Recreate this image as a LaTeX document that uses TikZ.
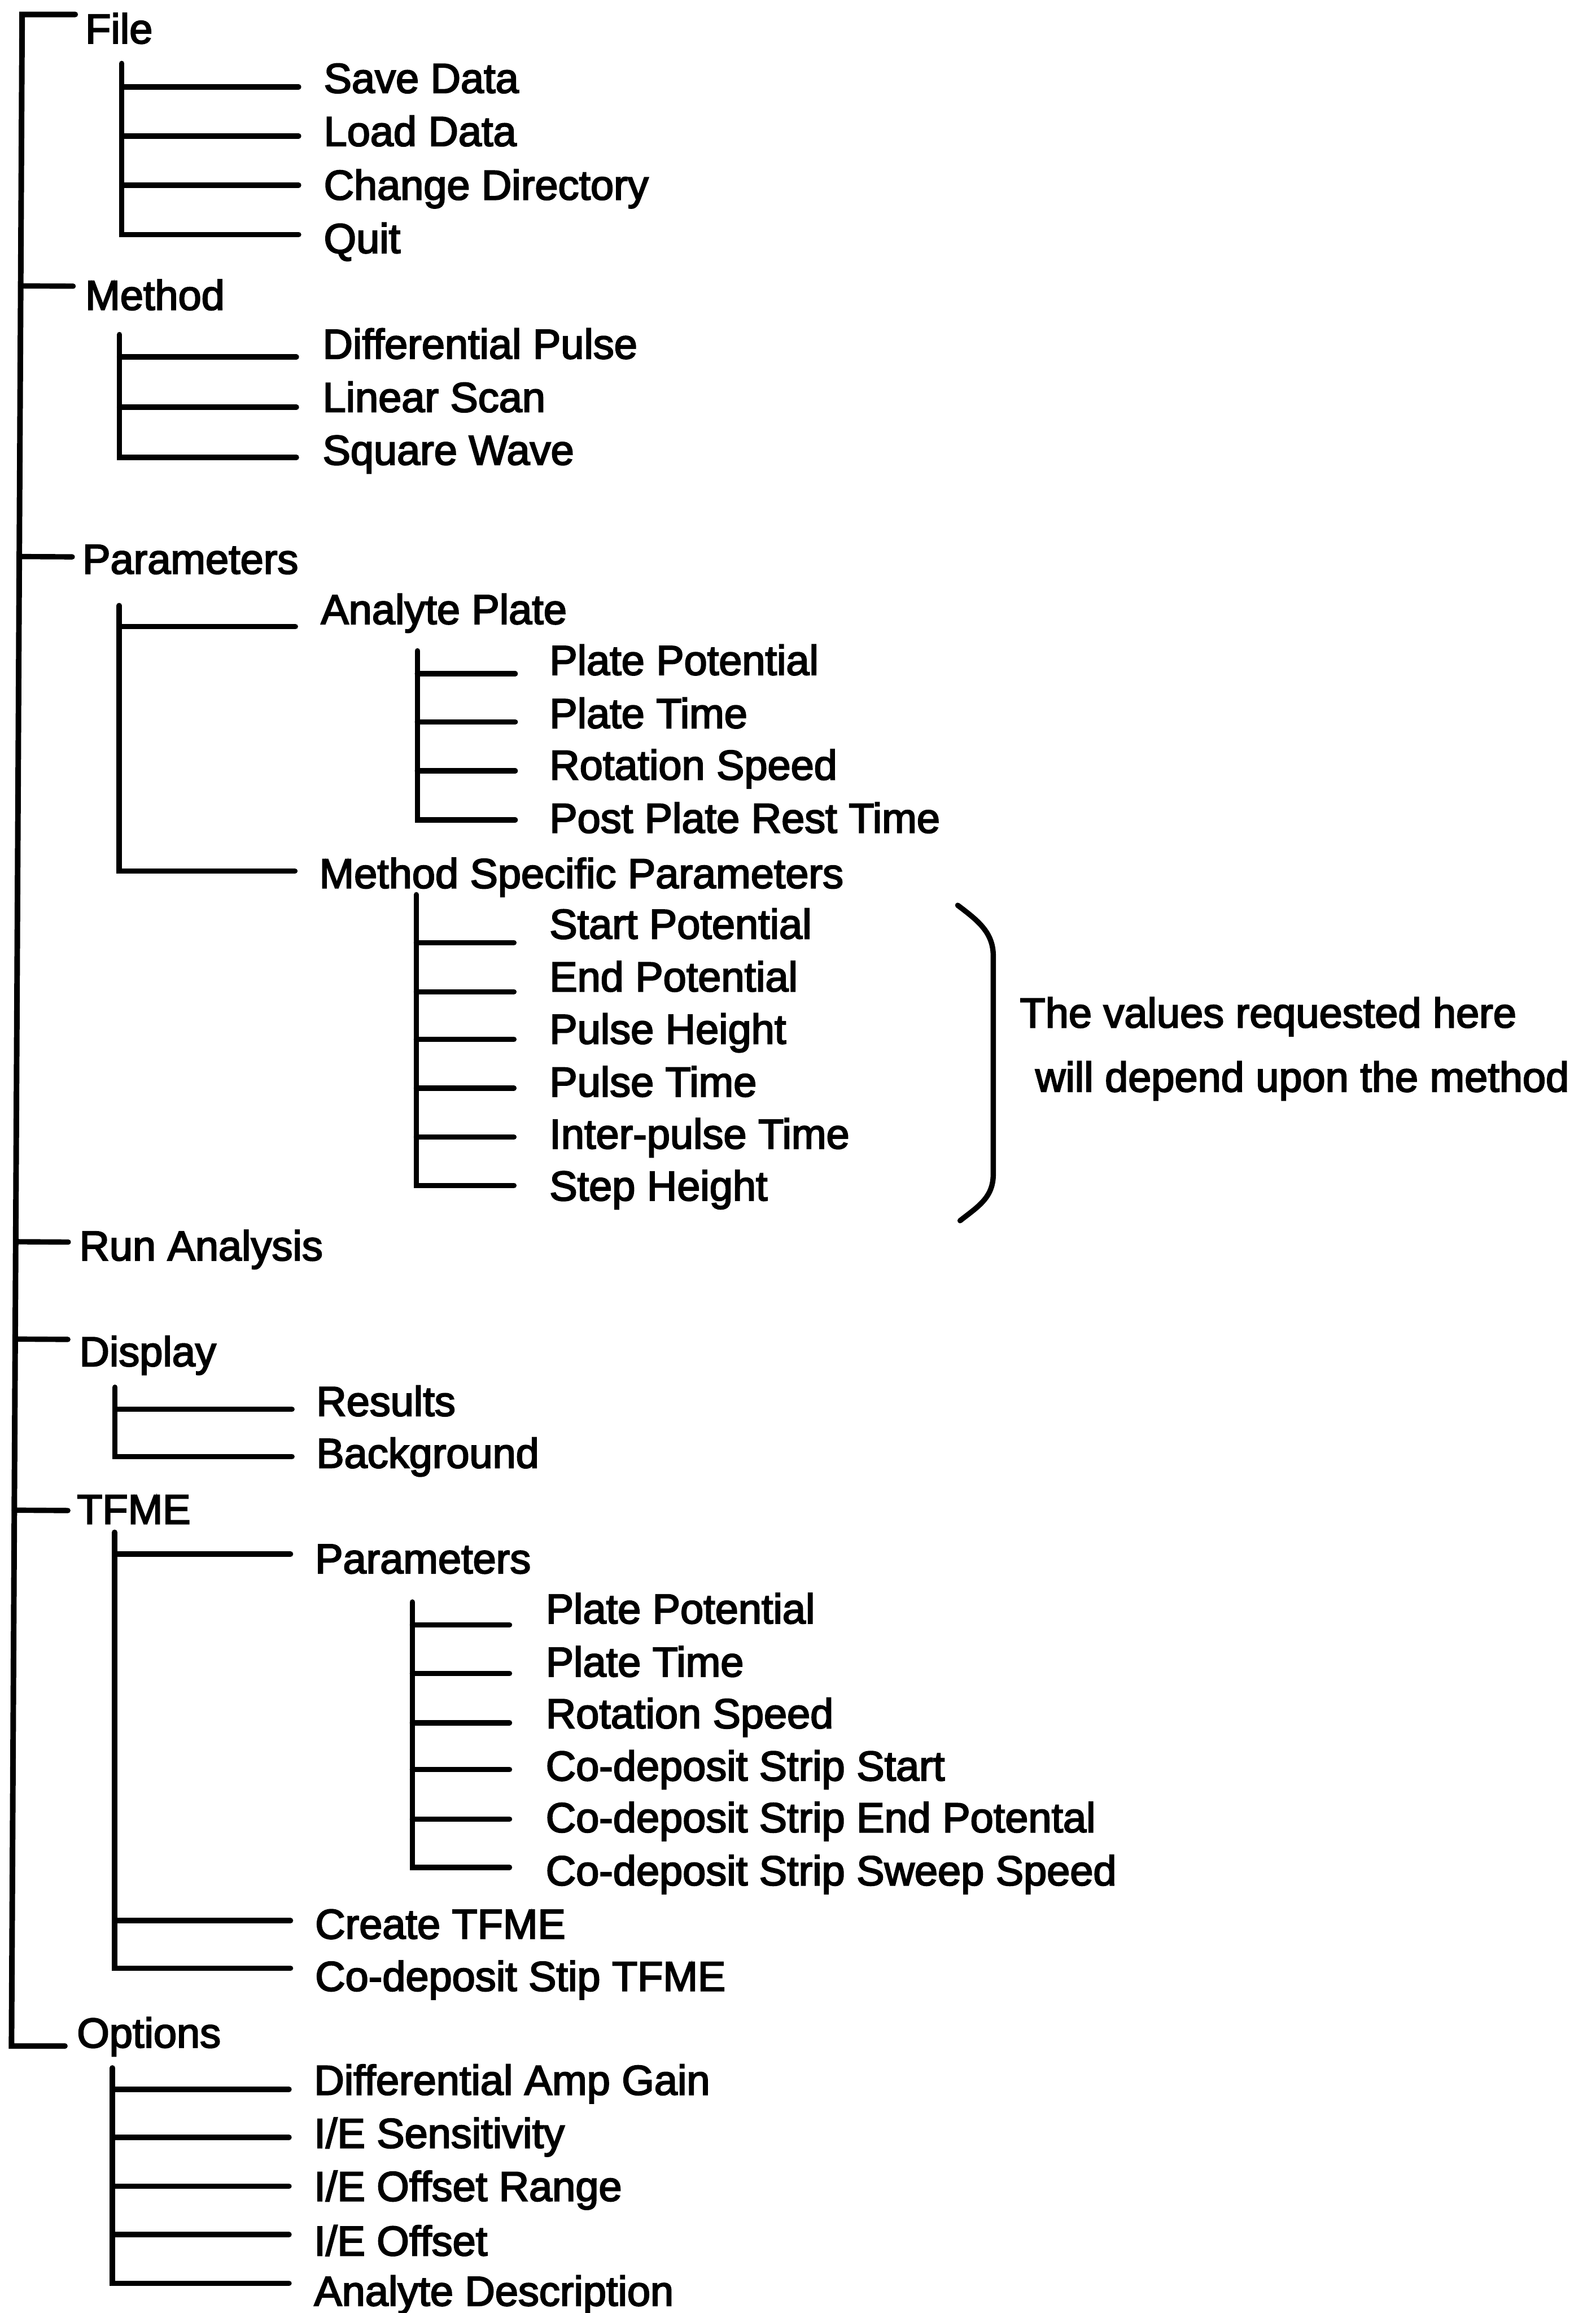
\documentclass[tikz,border=0pt]{standalone}
\usepackage{fontspec}
\newfontfamily\menufont{Liberation Sans}[FakeBold=3]
\newcommand\menutext{\menufont\fontsize{28.3}{34}\selectfont}
\usetikzlibrary{calc}
% one leaf of the menu tree: name, junction x, line y, line end x, text x, text baseline, text
\newcommand\menuleaf[7]{%
  \coordinate (#1-j) at (#2,#3);
  \coordinate (#1-e) at (#4,#3);
  \node[lbl] (#1) at (#5,#6) {#7};}
\begin{document}
\begin{tikzpicture}[x=1pt,y=-1pt,
  lbl/.style={anchor=base west,inner sep=0pt,font=\menutext},
  branch/.style={line width=3.6pt,line cap=round,line join=miter},
  trunk/.style={line width=3.8pt,line cap=round,line join=miter}]
\useasboundingbox (0,0) rectangle (1082,1568);

% ---- main menu ----
\coordinate (T0) at (15,9.8);
\coordinate (T1) at (7.8,1387);
\node[lbl] (file) at (57.7,29.4) {File};
\coordinate (file-e) at (51,9.8);
\node[lbl] (method) at (57.7,210) {Method};
\coordinate (method-e) at (49.6,194);
\node[lbl] (params) at (55.8,388.9) {Parameters};
\coordinate (params-e) at (49,377.5);
\node[lbl] (run) at (53.6,854.4) {Run Analysis};
\coordinate (run-e) at (46.3,842);
\node[lbl] (display) at (53.6,926.1) {Display};
\coordinate (display-e) at (46,908);
\node[lbl] (tfme) at (52,1033) {TFME};
\coordinate (tfme-e) at (46,1024);
\node[lbl] (options) at (52,1388) {Options};
\coordinate (options-e) at (44,1387);
\draw[trunk] (file-e) -- (T0) -- (T1) -- (options-e);
\foreach \n in {method,params,run,display,tfme}
  \draw[branch] ($(T0)!(\n-e)!(T1)$) -- (\n-e);

% ---- File ----
\coordinate (fileg-top) at (82.6,43);
\menuleaf{save}{82.6}{58.9}{202.5}{219.4}{62.9}{Save Data}
\menuleaf{load}{82.6}{92.2}{202.5}{219.4}{98.9}{Load Data}
\menuleaf{chdir}{82.6}{125.5}{202.5}{219.4}{135.3}{Change Directory}
\menuleaf{quit}{82.6}{159}{202.5}{219.4}{171.5}{Quit}
\draw[branch] (fileg-top) -- (quit-j) -- (quit-e);
\foreach \n in {save,load,chdir} \draw[branch] (\n-j) -- (\n-e);

% ---- Method ----
\coordinate (methg-top) at (81,226.8);
\menuleaf{dpulse}{81}{242}{201}{218.6}{243.1}{Differential Pulse}
\menuleaf{lscan}{81}{276}{201}{218.6}{279.2}{Linear Scan}
\menuleaf{sqwave}{81}{310}{201}{218.6}{315}{Square Wave}
\draw[branch] (methg-top) -- (sqwave-j) -- (sqwave-e);
\foreach \n in {dpulse,lscan} \draw[branch] (\n-j) -- (\n-e);

% ---- Parameters ----
\coordinate (parg-top) at (80.8,410.5);
\menuleaf{aplate}{80.8}{424.8}{200.3}{217.4}{423}{Analyte Plate}
\menuleaf{msp}{80.8}{590.5}{200}{216.3}{602}{Method Specific Parameters}
\draw[branch] (parg-top) -- (msp-j) -- (msp-e);
\draw[branch] (aplate-j) -- (aplate-e);

% Analyte Plate
\coordinate (apg-top) at (283,441.2);
\menuleaf{appot}{283}{456.7}{349.4}{372.4}{457.5}{Plate Potential}
\menuleaf{aptime}{283}{489.4}{349.4}{372.4}{493.5}{Plate Time}
\menuleaf{aprot}{283}{522.6}{349.4}{372.4}{528.5}{Rotation Speed}
\menuleaf{aprest}{283}{555.8}{349.4}{372.4}{564.5}{Post Plate Rest Time}
\draw[branch] (apg-top) -- (aprest-j) -- (aprest-e);
\foreach \n in {appot,aptime,aprot} \draw[branch] (\n-j) -- (\n-e);

% Method Specific Parameters
\coordinate (mspg-top) at (282.3,606.5);
\menuleaf{spot}{282.3}{639}{348.5}{372.4}{636.3}{Start Potential}
\menuleaf{epot}{282.3}{672.3}{348.5}{372.4}{672}{End Potential}
\menuleaf{pheight}{282.3}{704.6}{348.5}{372.4}{707.5}{Pulse Height}
\menuleaf{ptime}{282.3}{737.6}{348.5}{372.4}{743.3}{Pulse Time}
\menuleaf{iptime}{282.3}{770.8}{348.5}{372.4}{778.6}{Inter-pulse Time}
\menuleaf{sheight}{282.3}{803.6}{348.5}{372.4}{813.8}{Step Height}
\draw[branch] (mspg-top) -- (sheight-j) -- (sheight-e);
\foreach \n in {spot,epot,pheight,ptime,iptime} \draw[branch] (\n-j) -- (\n-e);

% brace and note
\coordinate (br-top) at (649.4,613.7);
\coordinate (br-bot) at (651,827.5);
\draw[branch] (br-top) .. controls (663,624) and (673.5,632) .. (673.5,648)
  -- (673.5,796) .. controls (673.5,812) and (663,818) .. (br-bot);
\node[lbl] (note1) at (691.4,696.5) {The values requested here};
\node[lbl] (note2) at (701.9,740) {will depend upon the method};

% ---- Display ----
\coordinate (dispg-top) at (78,940.4);
\menuleaf{results}{78}{955.4}{198}{214.3}{959.8}{Results}
\menuleaf{backgr}{78}{987.4}{198}{214.3}{995}{Background}
\draw[branch] (dispg-top) -- (backgr-j) -- (backgr-e);
\draw[branch] (results-j) -- (results-e);

% ---- TFME ----
\coordinate (tfmeg-top) at (77.7,1038.7);
\menuleaf{tparams}{77.7}{1053.5}{197}{213.5}{1066.5}{Parameters}
\menuleaf{create}{77.7}{1302}{197}{213.5}{1314.2}{Create TFME}
\menuleaf{cdstip}{77.7}{1334.3}{197}{213.5}{1349.6}{Co-deposit Stip TFME}
\draw[branch] (tfmeg-top) -- (cdstip-j) -- (cdstip-e);
\foreach \n in {tparams,create} \draw[branch] (\n-j) -- (\n-e);

% TFME parameters
\coordinate (tpg-top) at (279.6,1086);
\menuleaf{tppot}{279.6}{1101.5}{345.5}{369.9}{1100.5}{Plate Potential}
\menuleaf{tptime}{279.6}{1134.4}{345.5}{369.9}{1136.5}{Plate Time}
\menuleaf{tprot}{279.6}{1167.9}{345.5}{369.9}{1171.5}{Rotation Speed}
\menuleaf{cdsstart}{279.6}{1199.6}{345.5}{369.9}{1207}{Co-deposit Strip Start}
\menuleaf{cdsend}{279.6}{1233.2}{345.5}{369.9}{1242}{Co-deposit Strip End Potental}
\menuleaf{cdssweep}{279.6}{1265.9}{345.5}{369.9}{1278}{Co-deposit Strip Sweep Speed}
\draw[branch] (tpg-top) -- (cdssweep-j) -- (cdssweep-e);
\foreach \n in {tppot,tptime,tprot,cdsstart,cdsend} \draw[branch] (\n-j) -- (\n-e);

% ---- Options ----
\coordinate (optg-top) at (76.2,1401.8);
\menuleaf{dampg}{76.2}{1416.4}{196}{212.8}{1420}{Differential Amp Gain}
\menuleaf{iesens}{76.2}{1448.9}{196}{212.8}{1456}{I/E Sensitivity}
\menuleaf{ieorange}{76.2}{1482.1}{196}{212.8}{1492}{I/E Offset Range}
\menuleaf{ieoff}{76.2}{1514.8}{196}{212.8}{1529}{I/E Offset}
\menuleaf{adesc}{76.2}{1547.8}{196}{212.8}{1563}{Analyte Description}
\draw[branch] (optg-top) -- (adesc-j) -- (adesc-e);
\foreach \n in {dampg,iesens,ieorange,ieoff} \draw[branch] (\n-j) -- (\n-e);
\end{tikzpicture}
\end{document}
